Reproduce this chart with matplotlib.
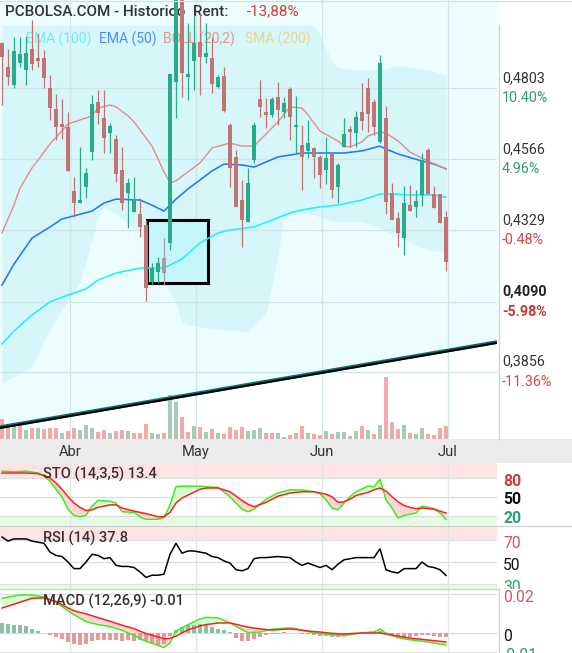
import numpy as np
import matplotlib
matplotlib.use('Agg')
import matplotlib.pyplot as plt
from matplotlib.transforms import blended_transform_factory as btf, offset_copy, Bbox, TransformedBbox
from matplotlib.patches import Rectangle
from matplotlib.lines import Line2D

plt.rcParams['font.family'] = ['Roboto', 'DejaVu Sans']

# ---------------- data ----------------
opens = [0.4953, 0.4873, 0.4813, 0.4887, 0.4863, 0.4933, 0.4903, 0.4903, 0.4803, 0.4733,
         0.4683, 0.4673, 0.4459, 0.4419, 0.4472, 0.4589, 0.4756, 0.4703, 0.4653, 0.4633,
         0.4529, 0.4452, 0.4389, 0.4382, 0.4346, 0.4155, 0.4189, 0.4185, 0.4285, 0.4823,
         0.5114, 0.4840, 0.4893, 0.4957, 0.4907, 0.4903, 0.4806, 0.4843, 0.4680, 0.4573,
         0.4429, 0.4356, 0.4563, 0.4766, 0.4723, 0.4713, 0.4773, 0.4723, 0.4800, 0.4673,
         0.4613, 0.4593, 0.4603, 0.4573, 0.4529, 0.4586, 0.4472, 0.4606, 0.4666, 0.4653,
         0.4723, 0.4803, 0.4756, 0.4623, 0.4703, 0.4452, 0.4369, 0.4302, 0.4412, 0.4406,
         0.4446, 0.4596, 0.4449, 0.4449, 0.4372]
highs = [0.4957, 0.4933, 0.4973, 0.4973, 0.4977, 0.5030, 0.4987, 0.4930, 0.4847, 0.4783,
         0.4766, 0.4723, 0.4506, 0.4606, 0.4536, 0.4780, 0.4796, 0.4796, 0.4686, 0.4646,
         0.4606, 0.4502, 0.4506, 0.4436, 0.4362, 0.4219, 0.4239, 0.4302, 0.4850, 0.5164,
         0.5130, 0.5020, 0.5047, 0.5054, 0.5020, 0.4973, 0.4847, 0.4873, 0.4686, 0.4596,
         0.4496, 0.4536, 0.4690, 0.4830, 0.4770, 0.4773, 0.4823, 0.4773, 0.4806, 0.4776,
         0.4680, 0.4696, 0.4606, 0.4579, 0.4639, 0.4586, 0.4553, 0.4703, 0.4676, 0.4726,
         0.4820, 0.4836, 0.4766, 0.4913, 0.4743, 0.4486, 0.4389, 0.4476, 0.4479, 0.4462,
         0.4586, 0.4603, 0.4476, 0.4449, 0.4392]
lows = [0.4746, 0.4813, 0.4803, 0.4873, 0.4813, 0.4863, 0.4873, 0.4803, 0.4696, 0.4629,
        0.4633, 0.4526, 0.4372, 0.4419, 0.4436, 0.4563, 0.4683, 0.4586, 0.4586, 0.4489,
        0.4396, 0.4335, 0.4389, 0.4305, 0.4092, 0.4145, 0.4152, 0.4145, 0.4262, 0.4703,
        0.4773, 0.4763, 0.4796, 0.4780, 0.4887, 0.4786, 0.4803, 0.4723, 0.4472, 0.4406,
        0.4272, 0.4356, 0.4553, 0.4706, 0.4670, 0.4706, 0.4680, 0.4703, 0.4629, 0.4586,
        0.4462, 0.4569, 0.4502, 0.4469, 0.4482, 0.4436, 0.4419, 0.4606, 0.4606, 0.4606,
        0.4663, 0.4656, 0.4646, 0.4619, 0.4382, 0.4362, 0.4272, 0.4245, 0.4392, 0.4372,
        0.4409, 0.4449, 0.4402, 0.4352, 0.4192]
closes = [0.4907, 0.4840, 0.4927, 0.4917, 0.4920, 0.4883, 0.4893, 0.4836, 0.4736, 0.4673,
          0.4673, 0.4526, 0.4419, 0.4429, 0.4519, 0.4750, 0.4720, 0.4636, 0.4676, 0.4516,
          0.4419, 0.4486, 0.4432, 0.4339, 0.4135, 0.4202, 0.4219, 0.4235, 0.4850, 0.5130,
          0.4853, 0.4850, 0.4953, 0.4907, 0.4920, 0.4816, 0.4840, 0.4726, 0.4536, 0.4406,
          0.4362, 0.4486, 0.4680, 0.4740, 0.4713, 0.4766, 0.4730, 0.4753, 0.4706, 0.4680,
          0.4573, 0.4619, 0.4573, 0.4513, 0.4569, 0.4462, 0.4546, 0.4649, 0.4656, 0.4706,
          0.4693, 0.4716, 0.4673, 0.4887, 0.4422, 0.4362, 0.4319, 0.4419, 0.4392, 0.4426,
          0.4563, 0.4449, 0.4402, 0.4352, 0.4222]
unchanged_days = [27]

volume = [20, 12, 13, 14, 9, 11, 11, 10, 11, 11,
          6, 8, 11, 9, 14, 11, 7, 9, 6, 8,
          9, 8, 6, 6, 15, 6, 5, 6, 44, 37,
          22, 7, 13, 12, 7, 10, 6, 5, 12, 9,
          12, 8, 9, 11, 6, 6, 6, 2, 4, 6,
          13, 6, 5, 4, 8, 5, 7, 7, 3, 8,
          13, 9, 5, 14, 62, 17, 10, 14, 6, 5,
          11, 5, 4, 11, 13]
volume_dir = "rrgrgrgrrrgrrgggrrgrrgrrrggrggrrgrgrgrrrrgggrrggrrrgrrgrggggrgrgrrrgrggrrrr"

month_ticks = [11, 32, 53, 74]
month_labels = ['Abr', 'May', 'Jun', 'Jul']

boll_idx = [0, 2, 3, 5, 7, 8, 11, 13, 15, 16, 18, 19, 21, 22, 25, 27, 28, 29, 31, 33, 35, 38, 40,
            42, 43, 46, 48, 50, 51, 53, 56, 57, 58, 60, 61, 63, 64, 66, 68, 71, 74]
boll_mid = [0.4319, 0.4412, 0.4469, 0.4536, 0.4589, 0.4616, 0.4683, 0.4696, 0.4710, 0.4736,
            0.4746, 0.4740, 0.4710, 0.4690, 0.4609, 0.4523, 0.4486, 0.4493, 0.4523, 0.4553,
            0.4603, 0.4619, 0.4609, 0.4609, 0.4629, 0.4690, 0.4740, 0.4736, 0.4713, 0.4659,
            0.4626, 0.4609, 0.4606, 0.4623, 0.4643, 0.4656, 0.4653, 0.4626, 0.4589, 0.4559,
            0.4533]
ema50_idx = [0, 2, 5, 8, 10, 12, 15, 17, 19, 23, 25, 27, 28, 29, 31, 33, 35, 37, 40, 42, 44,
             46, 48, 50, 53, 57, 60, 63, 64, 66, 70, 72, 74]
ema50 = [0.4145, 0.4215, 0.4302, 0.4339, 0.4366, 0.4376, 0.4392, 0.4419, 0.4432, 0.4429,
         0.4412, 0.4392, 0.4412, 0.4432, 0.4466, 0.4496, 0.4526, 0.4549, 0.4546, 0.4539,
         0.4556, 0.4573, 0.4579, 0.4586, 0.4586, 0.4586, 0.4593, 0.4609, 0.4599, 0.4583,
         0.4559, 0.4549, 0.4533]
ema100_idx = [0, 2, 5, 8, 11, 14, 16, 19, 23, 27, 30, 33, 36, 38, 42, 45, 48, 50, 53, 56, 60,
              63, 65, 68, 72, 74]
ema100 = [0.3948, 0.3992, 0.4045, 0.4089, 0.4112, 0.4132, 0.4162, 0.4185, 0.4202, 0.4202,
          0.4232, 0.4286, 0.4319, 0.4329, 0.4339, 0.4362, 0.4386, 0.4396, 0.4406, 0.4412,
          0.4429, 0.4449, 0.4449, 0.4446, 0.4446, 0.4439]
band_idx = [0, 5, 7, 11, 13, 16, 17, 18, 23, 27, 29, 30, 33, 41, 44, 46, 47, 50, 52, 53, 55,
            56, 60, 63, 66, 71, 74]
band_upper = [0.5013, 0.5013, 0.5013, 0.5013, 0.5013, 0.5013, 0.5013, 0.5013, 0.5013, 0.5013,
              0.5013, 0.5013, 0.5013, 0.5013, 0.5013, 0.5013, 0.5013, 0.5013, 0.5013, 0.4980,
              0.4890, 0.4870, 0.4863, 0.4863, 0.4878, 0.4863, 0.4846]
band_lower = [0.3818, 0.3872, 0.3962, 0.4095, 0.4152, 0.4372, 0.4406, 0.4396, 0.4319, 0.4152,
              0.4085, 0.4019, 0.4005, 0.3989, 0.4052, 0.4239, 0.4372, 0.4386, 0.4379, 0.4372,
              0.4359, 0.4356, 0.4356, 0.4336, 0.4306, 0.4262, 0.4256]

trend_idx = [-0.34, 82.5]
trend_price = [0.3671, 0.3955]
box_idx = [24.2, 34.3]
box_price = [0.4152, 0.4362]

price_levels = [0.4803, 0.4566, 0.4329, 0.4090, 0.3856]
price_labels = ['0,4803', '0,4566', '0,4329', '0,4090', '0,3856']
pct_labels = ['10.40%', '4.96%', '-0.48%', '-5.98%', '-11.36%']
last_price = 0.4090

sto_idx = [0, 2, 4, 6, 7, 8, 9, 10, 11, 12, 13, 14, 15, 16, 18, 19, 20, 22, 23, 24,
           26, 27, 28, 29, 30, 33, 34, 36, 38, 40, 41, 42, 44, 46, 48, 50, 52, 53, 54, 55,
           56, 57, 58, 59, 61, 62, 63, 64, 65, 66, 67, 68, 69, 70, 72, 73, 74]
sto_k = [91, 90, 91, 88, 83, 75, 62, 50, 30, 20, 18, 20, 35, 44, 43, 40, 26, 25, 18, 14,
         14, 17, 37, 66, 67, 67, 66, 65, 50, 30, 26, 30, 46, 56, 61, 61, 58, 55, 45, 32,
         29, 40, 50, 58, 67, 66, 78, 45, 32, 16, 20, 22, 24, 35, 31, 24, 14]
sto_d = [88, 88, 88, 87, 84, 80, 72, 62, 50, 40, 33, 28, 29, 33, 37, 37, 32, 27, 25, 23,
         18, 18, 25, 40, 48, 62, 64, 64, 58, 44, 38, 34, 41, 51, 56, 58, 58, 56, 54, 50,
         41, 42, 46, 52, 57, 61, 64, 59, 50, 42, 36, 33, 31, 32, 30, 27, 24]

rsi_idx = [0, 1, 2, 4, 5, 6, 7, 8, 9, 10, 11, 12, 13, 14, 15, 16, 17, 18, 19, 20,
           21, 22, 23, 24, 25, 26, 27, 28, 29, 30, 31, 32, 34, 35, 36, 37, 38, 39, 40, 41,
           42, 43, 44, 46, 48, 49, 50, 51, 52, 53, 54, 55, 56, 57, 58, 59, 61, 62, 63, 64,
           65, 66, 67, 69, 70, 71, 72, 73, 74]
rsi = [72.7, 69, 71, 71, 69, 68, 67, 59, 56, 55, 50, 44, 44, 50, 57, 56, 53, 54, 47, 46,
       46, 45, 41, 36, 38, 38, 39, 57, 67, 58, 60, 60, 58, 55, 54, 51, 49, 43, 42, 44,
       53, 54, 54, 55, 54, 50, 47, 49, 47, 45, 47, 43, 48, 52, 53, 54, 54, 54, 62, 43,
       41, 40, 44, 44, 50, 46, 45, 43, 37.8]

macd_idx = [0, 3, 5, 7, 9, 11, 12, 14, 16, 18, 20, 22, 24, 26, 27, 28, 29, 31, 33, 34,
            36, 38, 40, 41, 43, 45, 48, 49, 51, 53, 55, 57, 60, 62, 63, 64, 66, 68, 71, 74]
macd = [0.0179, 0.0195, 0.0195, 0.0184, 0.0157, 0.0114, 0.0094, 0.0059, 0.0043, 0.0033,
        0.0014, -0.0013, -0.0043, -0.0063, -0.0075, -0.0051, 0.0010, 0.0043, 0.0072, 0.0080,
        0.0078, 0.0051, 0.0018, 0.0002, 0.0005, 0.0020, 0.0026, 0.0022, 0.0007, -0.0003,
        -0.0010, -0.0014, 0.0001, 0.0006, 0.0021, -0.0002, -0.0024, -0.0035, -0.0046, -0.0062]
macd_signal = [0.0128, 0.0158, 0.0178, 0.0180, 0.0162, 0.0128, 0.0114, 0.0098, 0.0079, 0.0060,
               0.0040, 0.0022, -0.0003, -0.0020, -0.0030, -0.0027, -0.0016, 0.0016, 0.0036, 0.0043,
               0.0051, 0.0052, 0.0037, 0.0030, 0.0021, 0.0015, 0.0021, 0.0018, 0.0010, 0.0005,
               -0.0002, -0.0005, 0.0000, 0.0000, 0.0000, -0.0005, -0.0016, -0.0026, -0.0036, -0.0046]
macd_hist = [0.0051, 0.0046, 0.0041, 0.0041, 0.0036, 0.0021, 0.0010, 0.0000, -0.0010, -0.0021,
             -0.0031, -0.0046, -0.0056, -0.0062, -0.0056, -0.0041, -0.0036, -0.0036, -0.0036, -0.0036,
             -0.0041, -0.0036, -0.0041, -0.0036, -0.0041, -0.0056, -0.0062, -0.0056, -0.0015, 0.0015,
             0.0031, 0.0041, 0.0041, 0.0046, 0.0041, 0.0031, 0.0021, 0.0015, 0.0005, -0.0026,
             -0.0041, -0.0041, -0.0031, -0.0021, -0.0010, -0.0005, -0.0005, 0.0005, 0.0002, 0.0000,
             -0.0005, -0.0005, -0.0010, -0.0015, -0.0015, -0.0021, -0.0021, -0.0010, -0.0005, -0.0005,
             0.0000, 0.0005, 0.0005, 0.0010, -0.0005, -0.0015, -0.0026, -0.0026, -0.0021, -0.0015,
             -0.0010, -0.0010, -0.0015, -0.0021, -0.0021]

# ---------------- figure ----------------
W, H = 572, 653
fig = plt.figure(figsize=(W / 100, H / 100), dpi=100)
fig.patch.set_facecolor('white')
XL = (-1 / 3, 82.5)
PLOT_W = 497

GREEN_C = '#27ab8b'
RED_C = '#c27474'
GRAY_C = '#ab9b9b'
GRID = '#cfe5e7'
PGRID = '#dedede'


def px_axes(x0, y0, x1, y1, z=1):
    a = fig.add_axes([x0 / W, 1 - y1 / H, (x1 - x0) / W, (y1 - y0) / H], zorder=z)
    a.set_xticks([])
    a.set_yticks([])
    for s in a.spines.values():
        s.set_visible(False)
    a.set_xlim(XL)
    return a


# ---- main price panel ----
ax = px_axes(0, 0, PLOT_W, 439)
ax.set_ylim(0.36313, 0.50967)
ax.set_facecolor('white')
ax.fill_between(trend_idx, trend_price, [0.53, 0.53], color='#ecfdfd', lw=0, zorder=0)
ax.fill_between(band_idx, band_lower, band_upper, color='#d7f6f9', lw=0, zorder=0.5)
for lv in price_levels:
    ax.axhline(lv, color=GRID, lw=0.9, zorder=1)
for m in month_ticks:
    ax.axvline(m + 0.33, color=GRID, lw=0.9, zorder=1)

legend_items = [('EMA (100)', '#72eafb', 26), ('EMA (50)', '#4a8dfb', 99),
                ('BOLL (20,2)', '#ea9393', 163), ('SMA (200)', '#e6da8e', 245)]
for txt, col, xp in legend_items:
    ax.text(xp / PLOT_W, 1 - 39 / 439, txt, transform=ax.transAxes, color=col,
            fontsize=10, va='center', ha='left', zorder=1.5)

# title (drawn beneath the candles, as in the reference)
ax.text(5 / PLOT_W, 1 - 11.5 / 439, 'PCBOLSA.COM - Historico  Rent:', transform=ax.transAxes,
        fontsize=11, color='#333333', va='center', ha='left', weight='medium', zorder=1.6)
ax.text(247 / PLOT_W, 1 - 11.5 / 439, '-13,88%', transform=ax.transAxes,
        fontsize=11, color='#d43c3c', va='center', ha='left', zorder=1.6)

ax.add_patch(Rectangle((box_idx[0], box_price[0]), box_idx[1] - box_idx[0],
                       box_price[1] - box_price[0], fc='#c4f5fb', ec='black', lw=2.2, zorder=2))

x = np.arange(len(closes))
o = np.array(opens); c = np.array(closes); hi = np.array(highs); lo = np.array(lows)
cols = []
for i in range(len(c)):
    if i in unchanged_days:
        cols.append(GRAY_C)
    elif c[i] >= o[i]:
        cols.append(GREEN_C)
    else:
        cols.append(RED_C)

# volume
vcols = ['#a9cab9' if d == 'g' else '#f2a9a9' for d in volume_dir]
vt = btf(ax.transData, ax.transAxes)
ax.bar(x, np.array(volume) / 439.0, width=0.66, bottom=0, color=vcols, transform=vt,
       zorder=2.5, lw=0)

ax.plot(ema100_idx, ema100, color='#22f0fe', lw=1.15, zorder=3)
ax.plot(ema50_idx, ema50, color='#2378fb', lw=1.15, zorder=3)
ax.plot(boll_idx, boll_mid, color='#e48c8c', lw=1.0, zorder=3)

ax.plot(trend_idx, trend_price, color='#0d6b6b', lw=2.6, zorder=3.5, solid_capstyle='butt')
tr = offset_copy(ax.transData, fig=fig, x=0, y=-0.9, units='dots')
ax.plot(trend_idx, trend_price, color='black', lw=1.5, transform=tr, zorder=3.6,
        solid_capstyle='butt')

ax.vlines(x, lo, hi, colors=cols, lw=0.9, zorder=5)
body_b = np.minimum(o, c)
body_h = np.maximum(np.abs(c - o), 0.0004)
ax.bar(x, body_h, bottom=body_b, width=0.68, color=cols, lw=0, zorder=6)

rt = btf(ax.transAxes, ax.transData)
for lv, lab, pct in zip(price_levels, price_labels, pct_labels):
    bold = abs(lv - last_price) < 1e-9
    pcol = '#d64545' if pct.startswith('-') else '#2e9c6e'
    if bold:
        pcol = '#cc3333'
    ax.annotate(lab, xy=(502 / PLOT_W, lv), xycoords=rt, xytext=(0, 7.3),
                textcoords='offset points', va='center', ha='left', fontsize=10.3,
                color='#222222' if bold else '#333333', weight='bold' if bold else 'normal',
                annotation_clip=False)
    ax.annotate(pct, xy=(502 / PLOT_W, lv), xycoords=rt, xytext=(0, -7.3),
                textcoords='offset points', va='center', ha='left', fontsize=10.3,
                color=pcol, weight='bold' if bold else 'normal', annotation_clip=False)

# ---- date strip ----
full_right = XL[0] + (XL[1] - XL[0]) * W / PLOT_W
strip = px_axes(0, 439, W, 463)
strip.set_xlim(XL[0], full_right)
strip.set_facecolor('#ebebeb')
for m, lab in zip(month_ticks, month_labels):
    strip.text(m + 0.33, 0.47, lab, transform=btf(strip.transData, strip.transAxes),
               ha='center', va='center', fontsize=10.5, color='#333333')


def panel_common(a):
    for m in month_ticks:
        a.axvline(m + 0.33, color='#e3e3e3', lw=0.9, zorder=0.6)


def right_label(a, val, txt, col, bold=False, clip=None):
    t = a.annotate(txt, xy=(503 / PLOT_W, val), xycoords=btf(a.transAxes, a.transData),
                   xytext=(0, -2.2), textcoords='offset points', va='center', ha='left',
                   fontsize=11.3, color=col, weight='bold' if bold else 'normal',
                   annotation_clip=False)
    if clip is not None:
        y0, y1 = clip
        t.set_clip_box(TransformedBbox(Bbox([[0, 1 - y1 / H], [1, 1 - y0 / H]]),
                                       fig.transFigure))
        t.set_clip_on(True)
    return t


LEG_C = '#3d2d2d'

# ---- STO ----
sto = px_axes(0, 463, PLOT_W, 526)
sto.set_ylim(3.2, 104)
sto.axhspan(80, 104, color='#fde4e4', lw=0, zorder=0.2)
sto.axhspan(3.2, 20, color='#e7fce7', lw=0, zorder=0.2)
for lv in [80, 50, 20]:
    sto.axhline(lv, color=PGRID, lw=0.9, zorder=0.5)
panel_common(sto)
k = np.array(sto_k, float); d = np.array(sto_d, float)
sto.fill_between(sto_idx, k, d, where=k >= d, interpolate=True, color='#d6ffd6', lw=0, zorder=1)
sto.fill_between(sto_idx, k, d, where=k < d, interpolate=True, color='#ffd6d6', lw=0, zorder=1)
sto.plot(sto_idx, sto_k, color='#3cec1c', lw=1.1, zorder=2)
sto.plot(sto_idx, sto_d, color='#ff1f1f', lw=1.1, zorder=2.1)
sto.text(43 / PLOT_W, (526 - 474) / 63, 'STO (14,3,5) 13.4', transform=sto.transAxes,
         fontsize=10.5, color=LEG_C, va='center', ha='left', weight='medium', zorder=3)
right_label(sto, 80, '80', '#d13a3a', True)
right_label(sto, 50, '50', '#111111', True)
right_label(sto, 20, '20', '#2a9f6f', True)

# ---- RSI ----
rs = px_axes(0, 526, PLOT_W, 589)
rs.set_ylim(25.5, 82.7)
rs.axhspan(70, 82.7, color='#fde4e4', lw=0, zorder=0.2)
rs.axhspan(25.5, 30, color='#e7fce7', lw=0, zorder=0.2)
for lv in [70, 50, 30]:
    rs.axhline(lv, color=PGRID, lw=0.9, zorder=0.5)
panel_common(rs)
rs.plot(rsi_idx, rsi, color='black', lw=1.1, zorder=2)
rs.text(43 / PLOT_W, (589 - 538) / 63, 'RSI (14) 37.8', transform=rs.transAxes,
        fontsize=10.5, color=LEG_C, va='center', ha='left', weight='medium', zorder=3)
right_label(rs, 70, '70', '#d65555')
right_label(rs, 50, '50', '#111111')
right_label(rs, 30, '30', '#2a9f6f', clip=(526, 589))

# ---- MACD ----
mc = px_axes(0, 589, PLOT_W, 653)
mc.set_ylim(-0.01026, 0.02256)
for lv in [0.02, 0.0, -0.01]:
    mc.axhline(lv, color=PGRID, lw=0.9, zorder=0.5)
panel_common(mc)
mm = np.array(macd); ms = np.array(macd_signal)
mc.fill_between(macd_idx, mm, ms, where=mm >= ms, interpolate=True, color='#d6ffd6', lw=0, zorder=1)
mc.fill_between(macd_idx, mm, ms, where=mm < ms, interpolate=True, color='#ffd6d6', lw=0, zorder=1)
hcols = ['#8fbfa2' if v >= 0 else '#e29b9b' for v in macd_hist]
mc.bar(x, macd_hist, width=0.66, color=hcols, lw=0, zorder=1.5)
mc.plot(macd_idx, macd, color='#3cec1c', lw=1.1, zorder=2)
mc.plot(macd_idx, macd_signal, color='#ff1f1f', lw=1.1, zorder=2.1)
mc.text(43 / PLOT_W, (653 - 601) / 64, 'MACD (12,26,9) -0.01', transform=mc.transAxes,
        fontsize=10.5, color=LEG_C, va='center', ha='left', weight='medium', zorder=3)
right_label(mc, 0.02, '0.02', '#d65555', clip=(589, 653))
right_label(mc, 0.0, '0', '#111111')
right_label(mc, -0.01, '-0.01', '#2a9f6f', clip=(589, 653))

# ---- frame lines ----
def fline(x0, y0, x1, y1, col='#cfcfcf'):
    fig.add_artist(Line2D([x0 / W, x1 / W], [1 - y0 / H, 1 - y1 / H], color=col, lw=0.9,
                          transform=fig.transFigure, zorder=20))

fline(0, 0.5, W, 0.5, '#dddddd')
fline(499, 25, 499, 439)
fline(0, 526, W, 526)
fline(0, 589, 499, 589)
fline(499, 589, 499, 653)

fig.savefig('out.png', dpi=100)
